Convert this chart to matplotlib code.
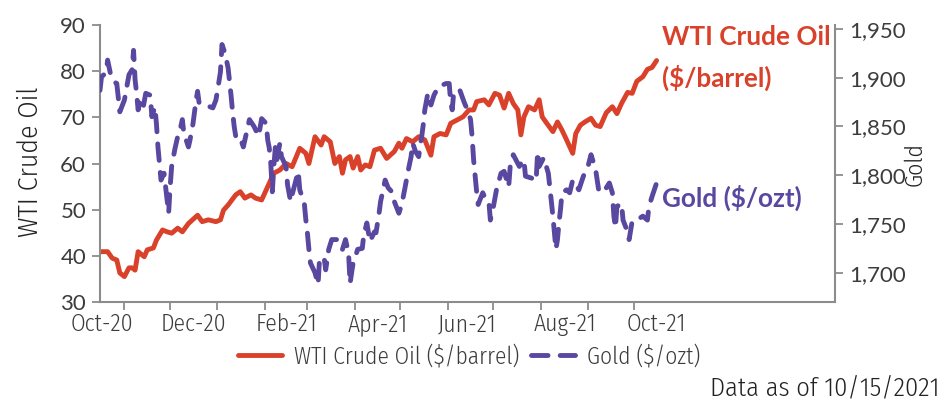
import pandas as pd
import matplotlib
matplotlib.use("Agg")
import matplotlib.pyplot as plt
from matplotlib.font_manager import FontProperties
from matplotlib.ticker import FuncFormatter

start = pd.Timestamp("2020-10-15")

# WTI crude oil, $/barrel, by days after start
oil_day = [1, 6, 9, 12, 14, 17, 20, 22, 24, 26, 30, 32, 36, 38, 42, 45, 48, 52, 55, 59,
           65, 68, 72, 77, 80, 82, 85, 90, 93, 96, 100, 103, 107, 111, 115, 119, 123, 127,
           132, 136, 138, 142, 146, 148, 152, 155, 158, 160, 162, 165, 167, 170, 172, 175,
           178, 181, 185, 189, 194, 197, 199, 202, 206, 210, 214, 218, 220, 224, 228, 231,
           235, 239, 243, 246, 248, 253, 256, 260, 263, 266, 269, 272, 275, 277, 279, 282,
           286, 289, 291, 294, 298, 301, 304, 307, 311, 313, 316, 319, 323, 326, 329, 333,
           337, 340, 343, 347, 350, 353, 357, 360, 363, 366]
oil_price = [40.9, 40.9, 39.5, 39.1, 36.3, 35.5, 37.4, 37.4, 36.9, 40.9, 39.8, 41.3, 41.7,
             43.4, 45.6, 45.2, 44.9, 46.0, 45.2, 47.0, 48.8, 47.4, 47.8, 47.4, 47.8, 49.9,
             51.0, 53.2, 53.9, 52.5, 53.2, 52.5, 52.1, 55.0, 57.9, 58.6, 60.0, 59.3, 63.3,
             62.2, 60.0, 65.8, 64.0, 65.8, 64.7, 60.0, 61.5, 57.9, 60.8, 61.5, 59.0, 61.5,
             58.6, 59.7, 59.3, 62.9, 63.3, 61.1, 62.6, 64.4, 63.3, 65.4, 64.7, 65.8, 65.1,
             61.8, 65.8, 66.5, 66.2, 68.7, 69.4, 70.1, 71.6, 71.6, 73.4, 73.8, 72.7, 75.2,
             74.8, 72.0, 75.2, 73.0, 71.6, 66.2, 70.1, 72.3, 71.6, 73.8, 70.1, 68.7, 66.9,
             69.0, 67.2, 65.1, 62.2, 66.5, 68.3, 69.0, 69.8, 68.3, 68.0, 71.0, 72.3, 70.8,
             73.0, 75.4, 75.2, 77.8, 78.8, 80.4, 80.8, 82.3]

# Gold, $/ozt, by days after start
gold_day = [1, 2, 5, 6, 8, 10, 12, 13, 14, 17, 19, 20, 22, 23, 24, 25, 26, 27, 29, 31, 34,
            35, 37, 38, 39, 40, 41, 43, 44, 45, 46, 47, 48, 50, 52, 54, 55, 56, 59, 60, 62,
            64, 65, 66, 70, 75, 77, 78, 80, 81, 83, 85, 87, 88, 89, 90, 92, 93, 95, 98, 99,
            102, 105, 107, 110, 111, 112, 113, 114, 115, 116, 117, 119, 120, 123, 124, 126,
            127, 129, 131, 132, 135, 136, 137, 138, 139, 142, 144, 145, 148, 149, 151, 153,
            157, 159, 160, 162, 164, 165, 166, 167, 170, 173, 174, 176, 178, 181, 182, 184,
            185, 188, 190, 193, 194, 197, 199, 201, 203, 205, 206, 208, 210, 211, 212, 213,
            214, 216, 218, 220, 223, 228, 230, 231, 232, 233, 237, 240, 242, 244, 245, 246,
            247, 248, 249, 252, 254, 256, 257, 259, 261, 264, 266, 269, 270, 272, 276, 277,
            279, 280, 284, 287, 288, 289, 292, 295, 296, 297, 298, 299, 300, 301, 302, 303,
            304, 307, 309, 311, 313, 315, 318, 321, 323, 326, 328, 330, 333, 335, 337, 338,
            339, 340, 343, 344, 346, 348, 350, 353, 357, 360, 361, 363, 366]
gold_price = [1887, 1901, 1905, 1918, 1903, 1896, 1894, 1879, 1865, 1877, 1894, 1903, 1908,
              1928, 1898, 1884, 1867, 1874, 1867, 1884, 1882, 1860, 1870, 1853, 1829, 1812,
              1795, 1802, 1788, 1775, 1761, 1788, 1809, 1826, 1840, 1850, 1857, 1843, 1829,
              1836, 1853, 1877, 1886, 1874, 1872, 1869, 1877, 1886, 1906, 1934, 1925, 1910,
              1881, 1864, 1850, 1840, 1841, 1838, 1829, 1850, 1857, 1850, 1840, 1858, 1853,
              1836, 1828, 1812, 1783, 1809, 1829, 1816, 1833, 1819, 1809, 1790, 1773, 1780,
              1792, 1804, 1785, 1771, 1754, 1741, 1724, 1710, 1700, 1688, 1715, 1715, 1703,
              1724, 1734, 1734, 1727, 1724, 1734, 1720, 1689, 1700, 1710, 1724, 1725, 1739,
              1751, 1732, 1742, 1741, 1761, 1773, 1795, 1787, 1782, 1773, 1761, 1771, 1787,
              1804, 1819, 1833, 1824, 1819, 1831, 1840, 1852, 1867, 1884, 1872, 1882, 1891,
              1894, 1894, 1874, 1867, 1886, 1887, 1874, 1867, 1857, 1840, 1816, 1799, 1783,
              1770, 1782, 1775, 1773, 1754, 1768, 1785, 1802, 1804, 1788, 1809, 1821, 1809,
              1812, 1816, 1799, 1797, 1794, 1824, 1809, 1818, 1802, 1788, 1773, 1758, 1741,
              1724, 1734, 1751, 1765, 1782, 1785, 1782, 1795, 1790, 1785, 1799, 1809, 1821,
              1806, 1785, 1790, 1787, 1792, 1782, 1758, 1746, 1768, 1771, 1754, 1746, 1734,
              1753, 1754, 1758, 1754, 1768, 1778, 1792]

oil_ticks = [30, 40, 50, 60, 70, 80, 90]
gold_ticks = [1700, 1750, 1800, 1850, 1900, 1950]
label_dates = ["2020-10-17", "2020-12-16", "2021-02-15", "2021-04-16",
               "2021-06-14", "2021-08-17", "2021-10-16"]
label_text = ["Oct-20", "Dec-20", "Feb-21", "Apr-21", "Jun-21", "Aug-21", "Oct-21"]

RED = "#d9412a"
PURPLE = "#5947a0"
GREY = "#8c8c8c"
TEXT = "#3c3c3c"


def narrow(size):
    return FontProperties(family="Fira Sans Condensed", weight=300, size=size)


def body(size, weight="normal"):
    return FontProperties(family="Lato", weight=weight, size=size)


oil_dates = start + pd.to_timedelta(oil_day, unit="D")
gold_dates = start + pd.to_timedelta(gold_day, unit="D")

W, H = 944, 403
fig = plt.figure(figsize=(W / 100, H / 100), dpi=100)
ax = fig.add_axes([100 / W, 1 - 302 / H, 735 / W, 277 / H])
ax2 = ax.twinx()

oil_line, = ax.plot(oil_dates, oil_price, color=RED, lw=3.5,
                    solid_joinstyle="round", solid_capstyle="round")
gold_line, = ax2.plot(gold_dates, gold_price, color=PURPLE, lw=3.5,
                      dashes=(3.4, 2.5), dash_capstyle="round")

ax.set_xlim(pd.Timestamp("2020-10-16"), pd.Timestamp("2022-02-10"))
ax.set_ylim(30, 90)
ax2.set_ylim(1670, 1954)

for s in ["top", "right"]:
    ax.spines[s].set_visible(False)
for s in ["top", "left", "bottom"]:
    ax2.spines[s].set_visible(False)
for s in ["left", "bottom"]:
    ax.spines[s].set_color(GREY)
    ax.spines[s].set_linewidth(1.5)
ax2.spines["right"].set_color(GREY)
ax2.spines["right"].set_linewidth(1.5)

# month marks without labels, labels sit between them
ax.set_xticks(pd.date_range("2020-11-01", "2021-10-01", freq="MS"), minor=True)
ax.set_xticks(pd.to_datetime(label_dates))
ax.set_xticklabels(label_text, fontproperties=narrow(17), color=TEXT)
ax.tick_params(axis="x", which="minor", length=6, width=1.3, color=GREY)
ax.tick_params(axis="x", which="major", length=0, pad=8)

ax.set_yticks(oil_ticks)
ax.set_yticklabels([str(v) for v in oil_ticks], fontproperties=body(16), color=TEXT)
ax.tick_params(axis="y", length=6, width=1.3, color=GREY, pad=4)

ax2.set_yticks(gold_ticks)
ax2.yaxis.set_major_formatter(FuncFormatter(lambda v, p: f"{v:,.0f}"))
for t in ax2.get_yticklabels():
    t.set_fontproperties(body(16))
    t.set_color(TEXT)
ax2.tick_params(axis="y", length=6, width=1.3, color=GREY, pad=4)

fig.text(30 / W, 1 - 162 / H, "WTI Crude Oil", rotation=90, ha="center", va="center",
         fontproperties=narrow(20), color="#222222")
fig.text(915 / W, 1 - 164 / H, "Gold", rotation=90, ha="center", va="center",
         fontproperties=narrow(17), color="#222222")

fig.text(662 / W, 1 - 37 / H, "WTI Crude Oil", ha="left", va="center",
         fontproperties=body(18.8, "bold"), color=RED)
fig.text(662 / W, 1 - 78 / H, "($/barrel)", ha="left", va="center",
         fontproperties=body(18.8, "bold"), color=RED)
fig.text(662 / W, 1 - 198 / H, "Gold ($/ozt)", ha="left", va="center",
         fontproperties=body(18.8, "bold"), color=PURPLE)

fig.legend([oil_line, gold_line], ["WTI Crude Oil ($/barrel)", "Gold ($/ozt)"],
           loc="center", bbox_to_anchor=(469 / W, 1 - 356 / H), ncol=2, frameon=False,
           prop=narrow(16.8), labelcolor=TEXT,
           handlelength=1.9, handletextpad=0.5, columnspacing=0.5)

fig.text(940 / W, 1 - 388 / H, "Data as of 10/15/2021", ha="right", va="center",
         fontproperties=narrow(19), color="#222222")

fig.savefig("out.png", dpi=100)
